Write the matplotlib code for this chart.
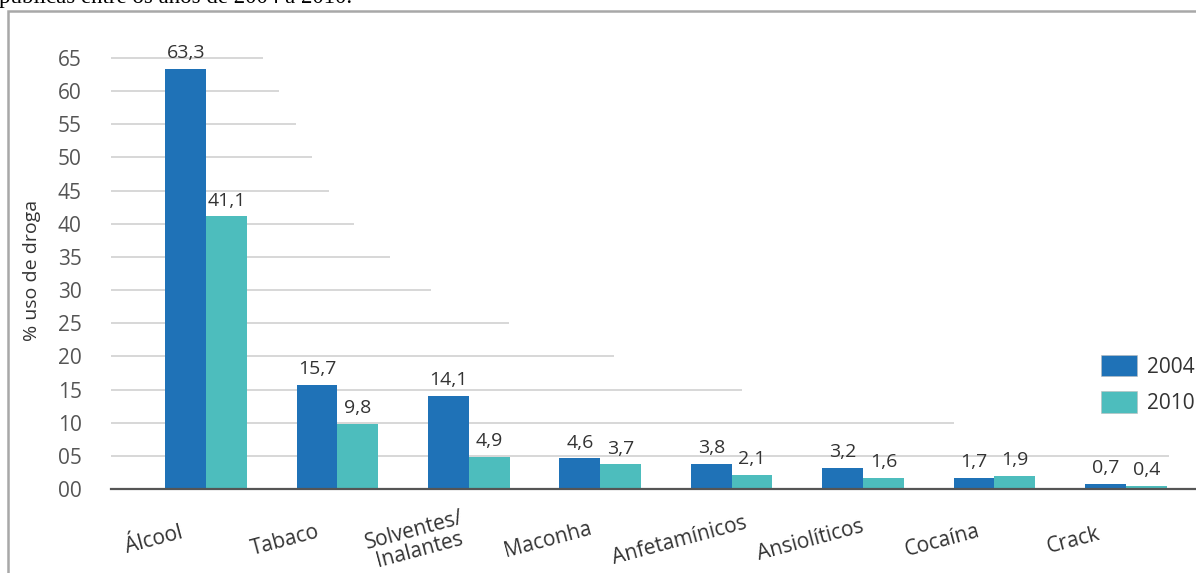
import numpy as np
import matplotlib
matplotlib.use('Agg')
import matplotlib.pyplot as plt
from matplotlib.patches import Rectangle, Patch

# dados do grafico
categorias = ['Álcool', 'Tabaco', 'Solventes/\nInalantes', 'Maconha',
              'Anfetamínicos', 'Ansiolíticos', 'Cocaína', 'Crack']
anos = ['2004', '2010']
uso_2004 = [63.3, 15.7, 14.1, 4.6, 3.8, 3.2, 1.7, 0.7]
uso_2010 = [41.1, 9.8, 4.9, 3.7, 2.1, 1.6, 1.9, 0.4]
yticks = list(range(0, 70, 5))
ytick_labels = ['%02d' % t for t in yticks]

cor_2004 = '#1F72B7'
cor_2010 = '#4DBDBD'

plt.rcParams['font.family'] = ['Open Sans', 'DejaVu Sans']

W, H = 1196, 573
fig = plt.figure(figsize=(W/100, H/100), dpi=100)

# eixo: x de 111px ate a borda, y=0 em 489px, 6.63 px por unidade
ax_left, ax_bottom = 111, 489
px_unit = 431/65.0
y_max = 66
ax = fig.add_axes([ax_left/W, 1-ax_bottom/H, 1-ax_left/W, y_max*px_unit/H])

x = np.arange(len(categorias))
larg = 0.31
ax.bar(x-larg/2, uso_2004, larg, color=cor_2004, zorder=3)
ax.bar(x+larg/2, uso_2010, larg, color=cor_2010, zorder=3)
ax.set_xlim(-0.723, 7.534)
ax.set_ylim(0, y_max)

# linhas de grade em escada (fim de cada linha, em px)
grade_fim = [1169, 954, 742, 614, 509, 431, 390, 354, 329, 312, 296, 279, 263]
for t, fim in zip(yticks[1:], grade_fim):
    ax.plot([0, (fim-ax_left)/(W-ax_left)], [t, t], color='#D4D4D4', lw=1.3,
            transform=ax.get_yaxis_transform(), zorder=1, solid_capstyle='butt')

for s in ['top', 'right', 'left']:
    ax.spines[s].set_visible(False)
ax.spines['bottom'].set_color('#555555')
ax.spines['bottom'].set_linewidth(1.6)
ax.spines['bottom'].set_zorder(4)

ax.set_yticks(yticks)
ax.set_yticklabels(ytick_labels, fontsize=15, color='#555555')
ax.tick_params(axis='y', length=0, pad=21)
ax.set_xticks([])
ax.set_ylabel('% uso de droga', fontsize=14, color='#333333', labelpad=12)

def fmt(v):
    return ('%.1f' % v).replace('.', ',')

for xi, v1, v2 in zip(x, uso_2004, uso_2010):
    ax.annotate(fmt(v1), (xi-larg/2, v1), xytext=(0, 5), textcoords='offset points',
                ha='center', va='bottom', fontsize=14, color='#333333')
    ax.annotate(fmt(v2), (xi+larg/2, v2), xytext=(0, 5), textcoords='offset points',
                ha='center', va='bottom', fontsize=14, color='#333333')

# rotulos das categorias, inclinados
for xi, c in zip(x, categorias):
    ax.annotate(c, (xi, 0), xytext=(-37.5, -37), textcoords='offset points',
                ha='center', va='center', rotation=15, rotation_mode='anchor',
                fontsize=15, color='#333333', linespacing=0.95, annotation_clip=False)

handles = [Patch(facecolor=cor_2004, edgecolor='#bbbbbb', lw=0.4),
           Patch(facecolor=cor_2010, edgecolor='#bbbbbb', lw=0.4)]
fig.legend(handles, anos, loc='upper left', bbox_to_anchor=(1101/W, 1-355/H),
           frameon=False, fontsize=15, handlelength=1.75, handleheight=1.2,
           handletextpad=0.45, labelspacing=0.65, borderpad=0, borderaxespad=0,
           labelcolor='#333333')

# moldura cinza
fig.add_artist(Rectangle((8/W, -0.1), 1.2, 1.1-11/H, transform=fig.transFigure,
                         fill=False, edgecolor='#A8A8A8', lw=1.8))

fig.text(-0.001, 1-3/H, 'públicas entre os anos de 2004 a 2010.', fontsize=16.5,
         family='Liberation Serif', color='black', va='baseline', ha='left')

fig.savefig('out.png', dpi=100)
